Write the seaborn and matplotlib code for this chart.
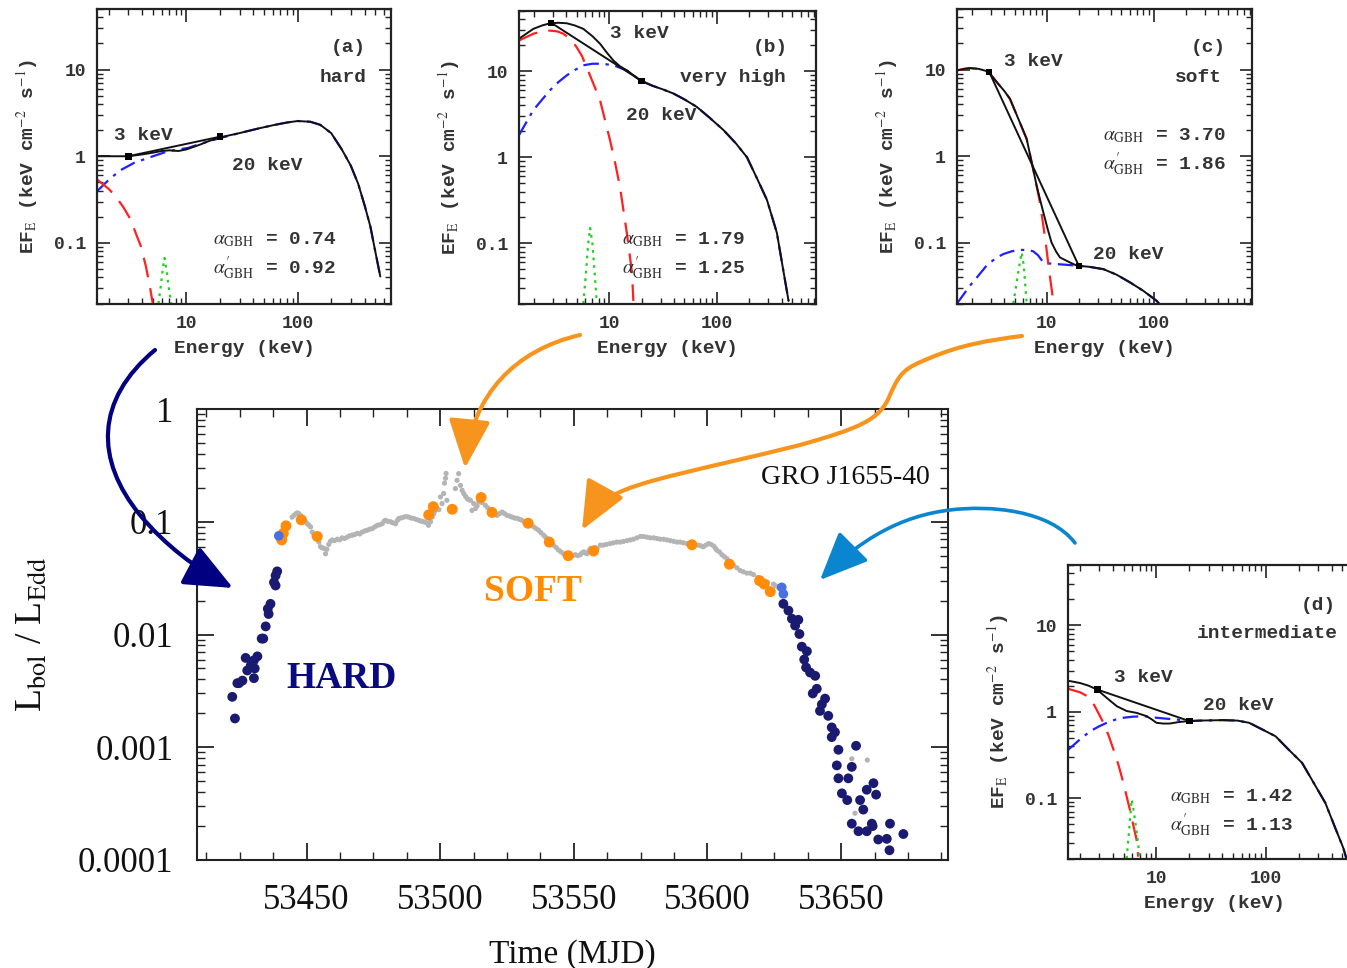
import matplotlib
matplotlib.use("Agg")
import matplotlib.pyplot as plt
from matplotlib.path import Path
from matplotlib.patches import FancyArrowPatch
from matplotlib.ticker import (LogLocator, NullFormatter, MultipleLocator,
                               FuncFormatter, FixedLocator)
import seaborn as sns

# ---------------------------------------------------------------------------
# Light curve of GRO J1655-40 (L_bol / L_Edd versus MJD)
# ---------------------------------------------------------------------------
gray_mjd = [53444.6, 53445.3, 53446.0, 53446.6, 53447.1, 53447.9, 53449.0, 53449.6,
            53450.3, 53450.9, 53451.5, 53452.1, 53452.8, 53453.4, 53454.6, 53455.2,
            53455.8, 53456.5, 53457.1, 53457.6, 53458.3, 53458.9, 53459.6, 53460.5,
            53461.5, 53462.4, 53463.3, 53464.2, 53465.2, 53466.1, 53467.1, 53468.0,
            53469.0, 53469.9, 53470.8, 53471.8, 53472.7, 53473.6, 53474.6, 53475.5,
            53476.4, 53477.3, 53478.3, 53479.0, 53479.5, 53480.4, 53481.4, 53482.3,
            53483.3, 53484.0, 53484.5, 53485.4, 53486.4, 53487.3, 53488.2, 53489.1,
            53490.1, 53491.0, 53492.0, 53492.9, 53493.9, 53494.8, 53495.6, 53496.4,
            53497.0, 53497.6, 53498.2, 53498.9, 53499.5, 53500.1, 53500.7, 53501.3,
            53501.6, 53502.0, 53502.2, 53502.5, 53505.7, 53506.3, 53506.9, 53507.6,
            53508.2, 53508.8, 53509.5, 53510.1, 53510.7, 53511.3, 53511.9, 53512.5,
            53513.2, 53513.8, 53514.4, 53515.6, 53516.9, 53517.8, 53518.8, 53520.0,
            53521.3, 53522.2, 53523.2, 53524.1, 53525.0, 53526.0, 53526.9, 53527.8,
            53528.8, 53529.7, 53530.6, 53531.5, 53532.4, 53534.0, 53535.0, 53535.9,
            53536.8, 53537.7, 53538.7, 53539.4, 53540.0, 53541.2, 53542.4, 53543.4,
            53544.3, 53545.2, 53546.2, 53547.4, 53548.7, 53549.6, 53550.6, 53551.5,
            53552.4, 53553.1, 53553.7, 53554.3, 53554.9, 53555.6, 53556.2, 53557.0,
            53558.0, 53558.7, 53559.9, 53561.0, 53562.2, 53563.6, 53564.8, 53566.1,
            53567.4, 53568.6, 53569.9, 53571.1, 53572.3, 53573.6, 53574.9, 53576.1,
            53577.4, 53578.6, 53579.9, 53581.1, 53582.3, 53583.6, 53584.8, 53586.1,
            53587.4, 53588.6, 53589.8, 53591.0, 53592.3, 53593.5, 53596.7, 53597.6,
            53598.5, 53599.4, 53600.4, 53601.3, 53602.3, 53603.0, 53603.5, 53604.5,
            53605.4, 53606.3, 53607.3, 53608.5, 53609.8, 53611.0, 53612.2, 53613.4,
            53614.7, 53616.0, 53617.2, 53618.8, 53620.4, 53622.5, 53624.7, 53625.6,
            53626.6, 53654.0, 53659.8, 53655.2]
gray_lum = [0.110, 0.114, 0.118, 0.120, 0.118, 0.113, 0.107, 0.101,
            0.096, 0.093, 0.090, 0.081, 0.076, 0.071, 0.066, 0.060,
            0.059, 0.058, 0.052, 0.057, 0.063, 0.067, 0.069, 0.068,
            0.070, 0.069, 0.072, 0.071, 0.073, 0.075, 0.076, 0.077,
            0.079, 0.078, 0.081, 0.083, 0.084, 0.086, 0.087, 0.090,
            0.093, 0.094, 0.096, 0.101, 0.103, 0.101, 0.100, 0.098,
            0.096, 0.103, 0.107, 0.108, 0.110, 0.111, 0.110, 0.108,
            0.107, 0.105, 0.103, 0.101, 0.100, 0.098, 0.093, 0.100,
            0.110, 0.118, 0.126, 0.131, 0.128, 0.166, 0.145, 0.178,
            0.220, 0.243, 0.268, 0.155, 0.197, 0.233, 0.267, 0.210,
            0.190, 0.178, 0.168, 0.160, 0.157, 0.155, 0.126, 0.145,
            0.131, 0.138, 0.150, 0.148, 0.140, 0.133, 0.126, 0.120,
            0.114, 0.118, 0.122, 0.118, 0.114, 0.112, 0.110, 0.108,
            0.107, 0.105, 0.103, 0.100, 0.097, 0.093, 0.090, 0.087,
            0.084, 0.080, 0.076, 0.073, 0.071, 0.067, 0.062, 0.059,
            0.056, 0.054, 0.052, 0.051, 0.051, 0.050, 0.051, 0.050,
            0.051, 0.053, 0.054, 0.053, 0.052, 0.055, 0.058, 0.058,
            0.059, 0.058, 0.062, 0.062, 0.063, 0.064, 0.065, 0.066,
            0.066, 0.067, 0.068, 0.069, 0.070, 0.072, 0.074, 0.074,
            0.073, 0.072, 0.072, 0.071, 0.070, 0.070, 0.069, 0.068,
            0.067, 0.066, 0.066, 0.065, 0.064, 0.063, 0.062, 0.061,
            0.060, 0.062, 0.064, 0.063, 0.061, 0.058, 0.056, 0.054,
            0.051, 0.049, 0.047, 0.044, 0.041, 0.039, 0.037, 0.036,
            0.035, 0.035, 0.034, 0.032, 0.030, 0.029, 0.028, 0.027,
            0.026, 0.00079, 0.00077, 0.00026]

soft_mjd = [53440.7, 53441.3, 53442.3, 53448.0, 53454.0, 53495.7, 53497.4, 53504.5,
            53515.3, 53519.4, 53532.9, 53540.8, 53547.9, 53557.4, 53594.2, 53608.2,
            53619.5, 53621.2, 53623.5]
soft_lum = [0.069, 0.079, 0.092, 0.104, 0.074, 0.115, 0.136, 0.129,
            0.164, 0.121, 0.097, 0.066, 0.050, 0.055, 0.0625, 0.042,
            0.030, 0.028, 0.024]

inter_mjd = [53439.6, 53627.8, 53628.4]
inter_lum = [0.075, 0.0262, 0.0229]

hard_mjd = [53439.0, 53438.4, 53437.8, 53438.4, 53436.5, 53435.5, 53435.8, 53434.7,
            53433.2, 53433.8, 53431.6, 53430.3, 53427.2, 53429.1, 53427.8, 53430.6,
            53430.3, 53426.0, 53424.7, 53424.1, 53422.2, 53423.2,
            53628.4, 53630.3, 53631.6, 53634.0, 53632.8, 53634.4, 53635.3, 53637.2,
            53636.2, 53636.9, 53638.4, 53640.3, 53639.4, 53640.9, 53644.0, 53642.8,
            53642.1, 53645.2, 53646.5, 53647.7, 53646.5, 53649.0, 53655.6, 53648.4,
            53654.0, 53649.0, 53652.7, 53650.3, 53652.3, 53659.6, 53662.1, 53663.1,
            53657.1, 53658.3, 53654.0, 53656.5, 53659.6, 53661.5, 53661.8, 53663.9,
            53667.1, 53668.3, 53673.3, 53668.1]
hard_lum = [0.0363, 0.0333, 0.0290, 0.0272, 0.0187, 0.0169, 0.0152, 0.0118,
            0.0092, 0.0092, 0.0064, 0.0059, 0.0062, 0.0053, 0.0048, 0.0050,
            0.0041, 0.0039, 0.0037, 0.0037, 0.0028, 0.0018,
            0.0187, 0.0163, 0.0138, 0.0135, 0.0120, 0.0101, 0.0078, 0.0071,
            0.0060, 0.0051, 0.0046, 0.0043, 0.0030, 0.0033, 0.0027, 0.0024,
            0.0021, 0.0019, 0.0015, 0.00136, 0.00123, 0.00095, 0.00103, 0.00069,
            0.00067, 0.00053, 0.00053, 0.00039, 0.00034, 0.00042, 0.00048, 0.00038,
            0.00034, 0.00028, 0.00021, 0.00018, 0.00018, 0.00021, 0.00020, 0.000152,
            0.000154, 0.00021, 0.00017, 0.000122]

lum_ticks = [1e-4, 1e-3, 1e-2, 1e-1, 1.0]
mjd_ticks = [53450, 53500, 53550, 53600, 53650]

# ---------------------------------------------------------------------------
# Spectral decompositions (E in keV, EF_E in keV cm^-2 s^-1)
# ---------------------------------------------------------------------------
# (a) hard state
a_total_E = [1.57, 2.0, 2.5, 3.0, 4.0, 5.0, 6.0, 7.0, 8.5, 10, 13, 16, 20, 30, 45, 60,
             80, 100, 130, 160, 200, 250, 300, 350, 400, 450, 500, 553]
a_total_F = [1.0, 1.0, 1.0, 1.0, 1.05, 1.1, 1.15, 1.17, 1.15, 1.2, 1.35, 1.5, 1.65, 1.85,
             2.1, 2.28, 2.45, 2.55, 2.5, 2.3, 1.85, 1.19, 0.78, 0.48, 0.27, 0.155, 0.078, 0.041]
a_disk_E = [1.57, 2.0, 2.31, 2.7, 3.16, 3.5, 3.9, 4.3, 4.64, 4.98]
a_disk_F = [0.54, 0.42, 0.345, 0.26, 0.185, 0.13, 0.091, 0.055, 0.034, 0.02]
a_comp_E = [1.57, 1.94, 2.5, 3.39, 5.0, 6.8, 10.4, 14, 20, 30, 45, 60, 80, 100, 130, 160,
            200, 250, 300, 350, 400, 450, 500, 553]
a_comp_F = [0.394, 0.514, 0.68, 0.84, 1.0, 1.14, 1.25, 1.42, 1.62, 1.85, 2.1, 2.28, 2.45,
            2.55, 2.5, 2.3, 1.85, 1.19, 0.78, 0.48, 0.27, 0.155, 0.078, 0.041]
a_line_E = [5.6, 5.9, 6.15, 6.35, 6.6, 6.9, 7.3]
a_line_F = [0.02, 0.033, 0.052, 0.067, 0.05, 0.032, 0.02]
a_dots_E = [3, 20]
a_dots_F = [1.0, 1.68]

# (b) very high state
b_total_E = [1.46, 1.98, 2.4, 2.83, 3.4, 4.05, 4.8, 5.77, 7.0, 8.25, 9.5, 10.96, 12.5,
             14.6, 17, 19.4, 25, 32, 39.5, 50, 65, 85, 115, 150, 190, 240, 291, 330, 360,
             410, 462]
b_total_F = [23.8, 31, 34, 36, 36.5, 36, 34, 31, 25.5, 20.8, 16.5, 13.3, 11.5, 10.2, 8.9,
             7.83, 6.8, 6.1, 5.5, 4.7, 3.85, 2.9, 2.07, 1.45, 1.0, 0.54, 0.32, 0.19, 0.132,
             0.051, 0.0214]
b_disk_E = [1.46, 1.98, 2.4, 2.83, 3.3, 3.77, 4.4, 5.0, 5.6, 6.2, 7.2, 8.24, 9.2, 10.2,
            11.4, 12.6, 13.6, 14.6, 15.5, 16.3, 16.8]
b_disk_F = [22.7, 27.2, 29, 29.6, 29, 27.2, 23.5, 19, 15, 11.1, 7.0, 4.6, 2.65, 1.58, 0.85,
            0.457, 0.24, 0.132, 0.075, 0.0456, 0.0214]
b_comp_E = [1.46, 1.98, 2.4, 2.83, 3.4, 4.05, 4.8, 5.77, 7.0, 8.25, 9.5, 10.96, 12.5, 14.6,
            17, 19.4, 25, 32, 39.5, 50, 65, 85, 115, 150, 190, 240, 291, 330, 360, 410, 462]
b_comp_F = [1.81, 3.52, 4.7, 6.0, 7.5, 8.94, 10.3, 11.7, 12.2, 12.2, 12.0, 11.7, 11.0, 10.2,
            8.9, 7.83, 6.8, 6.1, 5.5, 4.7, 3.85, 2.9, 2.07, 1.45, 1.0, 0.54, 0.32, 0.19,
            0.132, 0.051, 0.0214]
b_line_E = [5.77, 6.1, 6.4, 6.67, 7.0, 7.35, 7.7]
b_line_F = [0.02, 0.045, 0.1, 0.151, 0.1, 0.045, 0.02]
b_dots_E = [2.9, 20]
b_dots_F = [36.5, 7.7]

# (c) soft state
c_total_E = [1.45, 1.7, 1.91, 2.3, 2.84, 3.5, 4.0, 4.53, 5.3, 6.5, 7.3, 8.05, 8.7, 9.3,
             10.2, 11.1, 12.2, 13.3, 16.5, 19.1, 25, 33.9, 45, 60.4, 80, 107, 120]
c_total_F = [9.78, 10.2, 10.4, 10.2, 9.5, 6.9, 5.7, 4.6, 2.9, 1.58, 0.81, 0.457, 0.31,
             0.225, 0.145, 0.101, 0.08, 0.068, 0.0595, 0.0547, 0.053, 0.0498, 0.043,
             0.0349, 0.028, 0.0214, 0.018]
c_disk_E = [1.45, 1.7, 1.91, 2.3, 2.84, 3.5, 4.0, 4.53, 5.3, 6.5, 7.3, 8.05, 8.7, 9.3,
            9.9, 10.4, 10.9, 11.4]
c_disk_F = [9.78, 10.2, 10.4, 10.2, 9.5, 6.9, 5.7, 4.6, 2.9, 1.58, 0.81, 0.457, 0.28,
            0.158, 0.09, 0.0547, 0.035, 0.0234]
c_comp_E = [1.45, 1.91, 2.3, 2.74, 3.3, 3.92, 4.7, 5.62, 6.5, 7.48, 8.3, 9.3, 10.5, 12.4,
            16.5, 19.1, 25, 33.9, 45, 60.4, 80, 107, 120]
c_comp_F = [0.02, 0.0319, 0.042, 0.0547, 0.066, 0.0743, 0.08, 0.083, 0.083, 0.08, 0.072,
            0.0595, 0.058, 0.057, 0.0555, 0.0547, 0.053, 0.0498, 0.043, 0.0349, 0.028,
            0.0214, 0.018]
c_line_E = [4.87, 5.2, 5.55, 5.83, 6.1, 6.3, 6.5]
c_line_F = [0.02, 0.033, 0.055, 0.0776, 0.055, 0.033, 0.02]
c_dots_E = [2.9, 20]
c_dots_F = [9.4, 0.054]

# (d) intermediate state
d_total_E = [1.55, 1.63, 2.0, 2.4, 2.85, 3.5, 4.33, 5.33, 6.58, 8.1, 9.0, 10, 11.5, 13.2,
             16, 19.4, 25, 40.3, 55, 70.5, 95, 123, 160, 215, 280, 351, 430, 513, 560]
d_total_F = [2.28, 2.26, 2.15, 2.0, 1.81, 1.45, 1.16, 1.02, 0.97, 0.89, 0.82, 0.745, 0.73,
             0.73, 0.76, 0.778, 0.79, 0.8, 0.79, 0.745, 0.615, 0.52, 0.37, 0.256, 0.144,
             0.088, 0.046, 0.0264, 0.018]
d_disk_E = [1.55, 1.63, 2.0, 2.48, 2.9, 3.27, 3.65, 4.04, 4.5, 4.98, 5.33, 5.71, 6.1,
            6.58, 6.81]
d_disk_F = [1.85, 1.81, 1.68, 1.45, 1.0, 0.745, 0.53, 0.365, 0.24, 0.15, 0.105, 0.0736,
            0.05, 0.033, 0.021]
d_comp_E = [1.55, 1.63, 2.0, 2.48, 3.0, 3.51, 4.2, 4.98, 6.0, 7.55, 10, 12.5, 15.2, 19.4,
            25, 40.3, 55, 70.5, 95, 123, 160, 215, 280, 351, 430, 513, 560]
d_comp_F = [0.36, 0.382, 0.48, 0.596, 0.68, 0.745, 0.81, 0.852, 0.875, 0.89, 0.852, 0.83,
            0.814, 0.778, 0.79, 0.8, 0.79, 0.745, 0.615, 0.52, 0.37, 0.256, 0.144, 0.088,
            0.046, 0.0264, 0.018]
d_line_E = [5.33, 5.6, 5.8, 5.93, 6.2, 6.6, 7.05]
d_line_F = [0.02, 0.04, 0.07, 0.0966, 0.07, 0.04, 0.02]
d_dots_E = [2.9, 20]
d_dots_F = [1.8, 0.78]

panel_alpha = {"a": ("0.74", "0.92"), "b": ("1.79", "1.25"),
               "c": ("3.70", "1.86"), "d": ("1.42", "1.13")}
panel_state = {"a": "hard", "b": "very high", "c": "soft", "d": "intermediate"}

# ---------------------------------------------------------------------------
sns.set_theme(style="ticks")
plt.rcParams["font.family"] = ["Liberation Serif", "DejaVu Serif"]
plt.rcParams["mathtext.fontset"] = "stix"

W, H = 1347, 968
fig = plt.figure(figsize=(W / 100, H / 100), dpi=100)
fig.patch.set_facecolor("white")


def fx(x):
    return x / W


def fy(y):
    return 1 - y / H


def box(l, t, r, b):
    return [l / W, 1 - b / H, (r - l) / W, (b - t) / H]


NAVY = "#1a1a70"
ORANGE = "#ff8c0a"
ROYAL = "#4a6fe3"
GRAY = "#b4b4b4"

# ----------------------------- main light curve -----------------------------
ax = fig.add_axes(box(197, 409, 948, 860))
sns.scatterplot(x=gray_mjd, y=gray_lum, ax=ax, color=GRAY, s=14, linewidth=0,
                edgecolor="none", zorder=2)
sns.scatterplot(x=soft_mjd, y=soft_lum, ax=ax, color=ORANGE, s=62, linewidth=0,
                edgecolor="none", zorder=3)
sns.scatterplot(x=hard_mjd, y=hard_lum, ax=ax, color=NAVY, s=50, linewidth=0,
                edgecolor="none", zorder=4)
sns.scatterplot(x=inter_mjd, y=inter_lum, ax=ax, color=ROYAL, s=48, linewidth=0,
                edgecolor="none", zorder=5)

ax.set_yscale("log")
ax.set_ylim(1e-4, 1)
ax.set_xlim(53409, 53690)
ax.yaxis.set_major_locator(FixedLocator(lum_ticks))
ax.yaxis.set_major_formatter(FuncFormatter(lambda v, _: f"{v:g}"))
ax.yaxis.set_minor_locator(LogLocator(base=10, subs=range(2, 10), numticks=20))
ax.yaxis.set_minor_formatter(NullFormatter())
ax.xaxis.set_major_locator(FixedLocator(mjd_ticks))
ax.xaxis.set_major_formatter(FuncFormatter(lambda v, _: f"{v:.0f}"))
ax.xaxis.set_minor_locator(MultipleLocator(12.5))
ax.tick_params(which="both", direction="in", top=True, right=True, colors="#222222")
ax.tick_params(which="major", length=12, width=1.3, labelsize=25, pad=17)
ax.tick_params(which="minor", length=6, width=1.0)
for sp in ax.spines.values():
    sp.set_linewidth(1.5)
    sp.set_color("#222222")
for lab in ax.get_xticklabels() + ax.get_yticklabels():
    lab.set_color("#111111")
ax.set_xlabel("Time (MJD)", fontsize=24, labelpad=16, color="#111111")
ax.set_ylabel(r"L$_{\rm bol}$ / L$_{\rm Edd}$", fontsize=27, labelpad=20, color="#111111")

ax.text(0.863, 0.849, "GRO J1655-40", transform=ax.transAxes, fontsize=20,
        ha="center", va="center", color="#111111")
ax.text(0.447, 0.595, "SOFT", transform=ax.transAxes, fontsize=27, fontweight="bold",
        ha="center", va="center", color="#ff8c00")
ax.text(0.192, 0.402, "HARD", transform=ax.transAxes, fontsize=27, fontweight="bold",
        ha="center", va="center", color="#0a0a80")

# ------------------------------ spectral panels -----------------------------
MONO = ["Liberation Mono", "DejaVu Sans Mono"]
INK = "#333333"


def spectral_panel(rect, xlim, total, disk, comp, line, dots):
    iax = fig.add_axes(rect)
    iax.set_xscale("log")
    iax.set_yscale("log")
    sns.lineplot(x=comp[0], y=comp[1], ax=iax, color="#2020ff", lw=1.6,
                 linestyle=(0, (7, 3, 1.5, 3)), sort=False, estimator=None)
    sns.lineplot(x=disk[0], y=disk[1], ax=iax, color="#ff2020", lw=1.6,
                 linestyle=(0, (9, 5)), sort=False, estimator=None)
    sns.lineplot(x=line[0], y=line[1], ax=iax, color="#20d020", lw=1.6,
                 linestyle=(0, (1.2, 2.2)), sort=False, estimator=None)
    sns.lineplot(x=total[0], y=total[1], ax=iax, color="#111111", lw=1.4,
                 sort=False, estimator=None)
    sns.lineplot(x=dots[0], y=dots[1], ax=iax, color="#111111", lw=1.4,
                 sort=False, estimator=None)
    sns.scatterplot(x=dots[0], y=dots[1], ax=iax, color="black", s=22, marker="s",
                    linewidth=0, edgecolor="none", zorder=5)
    iax.set_xlim(*xlim)
    iax.set_ylim(0.02, 50)
    iax.xaxis.set_major_locator(FixedLocator([10, 100]))
    iax.xaxis.set_major_formatter(FuncFormatter(lambda v, _: f"{v:g}"))
    iax.xaxis.set_minor_locator(LogLocator(base=10, subs=range(2, 10), numticks=20))
    iax.xaxis.set_minor_formatter(NullFormatter())
    iax.yaxis.set_major_locator(FixedLocator([0.1, 1, 10]))
    iax.yaxis.set_major_formatter(FuncFormatter(lambda v, _: f"{v:g}"))
    iax.yaxis.set_minor_locator(LogLocator(base=10, subs=range(2, 10), numticks=20))
    iax.yaxis.set_minor_formatter(NullFormatter())
    iax.tick_params(which="both", direction="in", top=True, right=True, colors="#222222")
    iax.tick_params(which="major", length=9, width=1.2, labelsize=13, pad=8)
    iax.tick_params(which="minor", length=4.5, width=1.0)
    for lab in iax.get_xticklabels() + iax.get_yticklabels():
        lab.set_fontfamily(MONO)
        lab.set_fontweight("bold")
        lab.set_color(INK)
    for sp in iax.spines.values():
        sp.set_linewidth(1.6)
        sp.set_color("#222222")
    iax.set_xlabel("Energy (keV)", fontsize=14, family=MONO, fontweight="bold",
                   color=INK, labelpad=6)
    iax.set_ylabel(r"EF$_{\rm E}$ (keV cm$^{-2}$ s$^{-1}$)", fontsize=14, family=MONO,
                   fontweight="bold", color=INK, labelpad=10)
    return iax


def panel_text(x, y, s, ha="center"):
    fig.text(fx(x), fy(y), s, fontsize=14, family=MONO, fontweight="bold", color=INK,
             ha=ha, va="center")


def alpha_text(x, y, key):
    a1, a2 = panel_alpha[key]
    panel_text(x, y, r"$\alpha_{\rm GBH}$ = " + a1, ha="left")
    panel_text(x, y + 28, r"$\alpha_{\rm GBH}^{\prime}$ = " + a2, ha="left")


spectral_panel(box(97, 9, 391, 303.5), (1.57, 690),
               (a_total_E, a_total_F), (a_disk_E, a_disk_F), (a_comp_E, a_comp_F),
               (a_line_E, a_line_F), (a_dots_E, a_dots_F))
panel_text(348, 48, "(a)")
panel_text(343, 77, panel_state["a"])
panel_text(143, 136, "3 keV")
panel_text(267, 166, "20 keV")
alpha_text(213, 240, "a")

spectral_panel(box(519, 11, 816, 303.5), (1.46, 830),
               (b_total_E, b_total_F), (b_disk_E, b_disk_F), (b_comp_E, b_comp_F),
               (b_line_E, b_line_F), (b_dots_E, b_dots_F))
panel_text(770, 48, "(b)")
panel_text(733, 78, panel_state["b"])
panel_text(639, 34, "3 keV")
panel_text(661, 116, "20 keV")
alpha_text(622, 240, "b")

spectral_panel(box(957, 9, 1252, 303.5), (1.45, 830),
               (c_total_E, c_total_F), (c_disk_E, c_disk_F), (c_comp_E, c_comp_F),
               (c_line_E, c_line_F), (c_dots_E, c_dots_F))
panel_text(1208, 48, "(c)")
panel_text(1198, 77, panel_state["c"])
panel_text(1033, 62, "3 keV")
panel_text(1128, 254, "20 keV")
alpha_text(1103, 136, "c")

spectral_panel(box(1068, 565, 1362, 858.5), (1.55, 760),
               (d_total_E, d_total_F), (d_disk_E, d_disk_F), (d_comp_E, d_comp_F),
               (d_line_E, d_line_F), (d_dots_E, d_dots_F))
panel_text(1318, 606, "(d)")
panel_text(1267, 633, panel_state["d"])
panel_text(1143, 677, "3 keV")
panel_text(1238, 706, "20 keV")
alpha_text(1170, 797, "d")


# --------------------------------- arrows -----------------------------------
def curved_arrow(pts, color, lw, head_len, head_w):
    verts = [(fx(x), fy(y)) for x, y in pts]
    codes = [Path.MOVETO] + [Path.CURVE4] * (len(verts) - 1)
    arr = FancyArrowPatch(path=Path(verts, codes),
                          arrowstyle=f"-|>,head_length={head_len},head_width={head_w}",
                          color=color, lw=lw, mutation_scale=1,
                          transform=fig.transFigure, zorder=10)
    fig.add_artist(arr)


curved_arrow([(155, 350), (95, 400), (95, 460), (140, 515),
              (165, 545), (195, 568), (233, 588)], "#000080", 3.0, 30, 13)
curved_arrow([(580, 335), (515, 350), (472, 395), (465, 468)], "#f7941d", 3.0, 30, 13)
curved_arrow([(1022, 336), (990, 340), (960, 345), (930, 358),
              (905, 368), (900, 372), (890, 395),
              (880, 420), (860, 428), (800, 445),
              (700, 470), (640, 480), (612, 496),
              (600, 503), (592, 512), (582, 530)], "#f7941d", 3.0, 30, 13)
curved_arrow([(1075, 543), (1050, 510), (990, 505), (950, 510),
              (900, 516), (860, 540), (820, 580)], "#0a85d0", 2.6, 30, 13)

fig.savefig("out.png", dpi=100, facecolor="white")
